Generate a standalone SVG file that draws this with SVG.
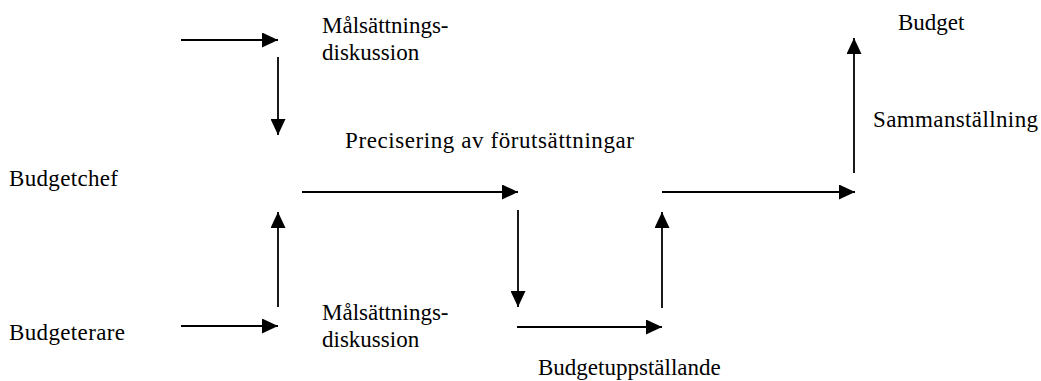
<svg xmlns="http://www.w3.org/2000/svg" width="1041" height="381" viewBox="0 0 1041 381">
  <style>
    text { font-family: "Liberation Serif", "Times New Roman", serif; font-size: 23px; fill: #000; }
    .flow { stroke: #000; stroke-width: 1.8; fill: none; marker-end: url(#head); }
  </style>
  <defs>
    <marker id="head" markerUnits="userSpaceOnUse" markerWidth="16" markerHeight="15" refX="16" refY="7.5" orient="auto">
      <path d="M0,0 L16,7.5 L0,15 z" fill="#000"/>
    </marker>
  </defs>
  <rect width="1041" height="381" fill="#fff"/>

  <!-- Role labels -->
  <g id="budgetchef"><text x="9" y="186" textLength="109">Budgetchef</text></g>
  <g id="budgeterare"><text x="9" y="340" textLength="116">Budgeterare</text></g>

  <!-- Process steps -->
  <g id="malsattning-chef">
    <text x="322" y="33">Målsättnings-</text>
    <text x="322" y="60">diskussion</text>
  </g>
  <g id="precisering"><text x="345" y="148" textLength="289">Precisering av förutsättningar</text></g>
  <g id="malsattning-budgeterare">
    <text x="322" y="320">Målsättnings-</text>
    <text x="322" y="347">diskussion</text>
  </g>
  <g id="budgetuppstallande"><text x="538" y="375">Budgetuppställande</text></g>
  <g id="sammanstallning"><text x="873" y="127" textLength="165">Sammanställning</text></g>
  <g id="budget"><text x="898" y="30">Budget</text></g>

  <!-- Connectors -->
  <g id="connectors">
    <line class="flow" x1="181" y1="40" x2="278" y2="40"/>
    <line class="flow" x1="278" y1="57" x2="278" y2="135"/>
    <line class="flow" x1="181" y1="326" x2="278" y2="326"/>
    <line class="flow" x1="278" y1="307" x2="278" y2="212"/>
    <line class="flow" x1="302" y1="192" x2="518" y2="192"/>
    <line class="flow" x1="518" y1="210" x2="518" y2="307"/>
    <line class="flow" x1="517" y1="327" x2="662" y2="327"/>
    <line class="flow" x1="662" y1="308" x2="662" y2="212"/>
    <line class="flow" x1="662" y1="192" x2="855" y2="192"/>
    <line class="flow" x1="854" y1="173" x2="854" y2="38"/>
  </g>
</svg>
